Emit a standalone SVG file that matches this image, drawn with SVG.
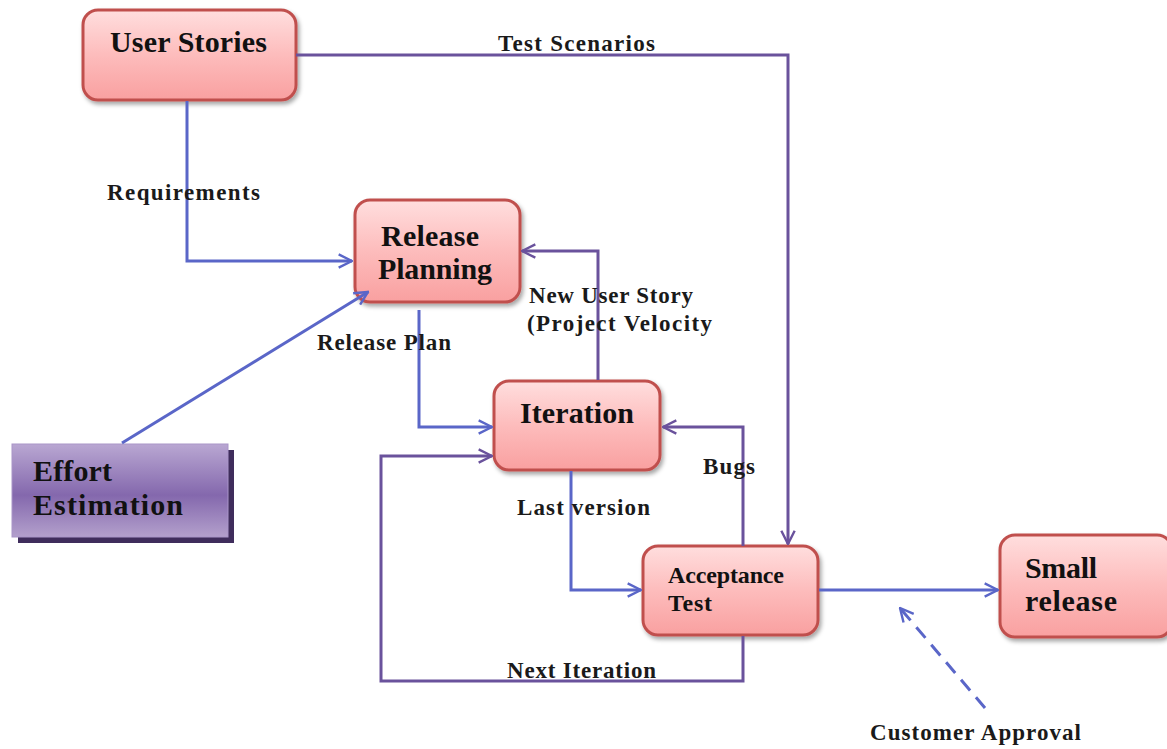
<svg xmlns="http://www.w3.org/2000/svg" width="1167" height="749" viewBox="0 0 1167 749">
<defs>
<linearGradient id="pink" x1="0" y1="0" x2="0" y2="1">
<stop offset="0" stop-color="#ffdede"/>
<stop offset="0.5" stop-color="#fdbcbc"/>
<stop offset="1" stop-color="#f9a0a0"/>
</linearGradient>
<linearGradient id="purp" x1="0" y1="0" x2="0" y2="1">
<stop offset="0" stop-color="#b9a7d2"/>
<stop offset="0.55" stop-color="#8468ad"/>
<stop offset="1" stop-color="#b3a0cc"/>
</linearGradient>
<filter id="sh" x="-10%" y="-10%" width="130%" height="130%">
<feDropShadow dx="2" dy="3" stdDeviation="2" flood-color="#000" flood-opacity="0.35"/>
</filter>
<marker id="ab" viewBox="0 0 12 12" refX="11" refY="6" markerWidth="16" markerHeight="16" markerUnits="userSpaceOnUse" orient="auto">
<path d="M1,1 L11,6 L1,11" fill="none" stroke="#5a66c8" stroke-width="1.8"/>
</marker>
<marker id="ap" viewBox="0 0 12 12" refX="11" refY="6" markerWidth="16" markerHeight="16" markerUnits="userSpaceOnUse" orient="auto">
<path d="M1,1 L11,6 L1,11" fill="none" stroke="#6a529c" stroke-width="1.8"/>
</marker>
</defs>
<style>
.box{fill:url(#pink);stroke:#c0504d;stroke-width:3;filter:url(#sh)}
.bt{font-family:"Liberation Serif",serif;font-weight:bold;font-size:30px;fill:#111}
.at{font-family:"Liberation Serif",serif;font-weight:bold;font-size:24px;fill:#111}
.lb{font-family:"Liberation Serif",serif;font-weight:bold;font-size:23px;fill:#1a1a1a}
.cb{fill:none;stroke:#5a66c8;stroke-width:3}
.cp{fill:none;stroke:#6a529c;stroke-width:3}
</style>
<rect width="1167" height="749" fill="#fff"/>
<g id="user-stories">
<rect class="box" x="83" y="10" width="213" height="90" rx="15"/>
<text class="bt" x="110" y="52" textLength="157">User Stories</text>
</g>
<g id="release-planning">
<rect class="box" x="355" y="200" width="165" height="102" rx="15"/>
<text class="bt" x="381" y="246" textLength="98">Release</text>
<text class="bt" x="378" y="279" textLength="114">Planning</text>
</g>
<g id="iteration">
<rect class="box" x="494" y="381" width="166" height="89" rx="15"/>
<text class="bt" x="520" y="423" textLength="114">Iteration</text>
</g>
<g id="acceptance-test">
<rect class="box" x="643" y="546" width="175" height="89" rx="15"/>
<text class="at" x="668" y="583" textLength="116">Acceptance</text>
<text class="at" x="668" y="611" textLength="44">Test</text>
</g>
<g id="small-release">
<rect class="box" x="1000" y="535" width="172" height="102" rx="15"/>
<text class="bt" x="1025" y="578" textLength="72">Small</text>
<text class="bt" x="1025" y="611" textLength="92">release</text>
</g>
<g id="effort-estimation">
<rect x="18" y="450" width="216" height="93" fill="#3f2d5c"/>
<rect x="12" y="444" width="216" height="93" fill="url(#purp)" stroke="#a995c8" stroke-width="1"/>
<text class="bt" x="33" y="481" textLength="79">Effort</text>
<text class="bt" x="33" y="515" textLength="150">Estimation</text>
</g>
<g id="connectors">
<path class="cp" d="M296,55 H788 V544" marker-end="url(#ap)"/>
<path class="cb" d="M187,101 V261 H352" marker-end="url(#ab)"/>
<path class="cb" d="M122,443 L368,292" marker-end="url(#ab)"/>
<path class="cb" d="M419,310 V427 H492" marker-end="url(#ab)"/>
<path class="cp" d="M598,380 V251 H522" marker-end="url(#ap)"/>
<path class="cb" d="M571,471 V590 H641" marker-end="url(#ab)"/>
<path class="cp" d="M743,546 V427 H663" marker-end="url(#ap)"/>
<path class="cp" d="M743,636 V681 H381 V456 H492" marker-end="url(#ap)"/>
<path class="cb" d="M819,590 H998" marker-end="url(#ab)"/>
<path class="cb" d="M985,708 L900,608" stroke-dasharray="14,9" marker-end="url(#ab)"/>
<text class="lb" x="498" y="51" textLength="157">Test Scenarios</text>
<text class="lb" x="107" y="200" textLength="153">Requirements</text>
<text class="lb" x="317" y="350" textLength="134">Release Plan</text>
<text class="lb" x="529" y="303" textLength="164">New User Story</text>
<text class="lb" x="527" y="331" textLength="185">(Project Velocity</text>
<text class="lb" x="517" y="515" textLength="133">Last version</text>
<text class="lb" x="703" y="474" textLength="52">Bugs</text>
<text class="lb" x="507" y="678" textLength="149">Next Iteration</text>
<text class="lb" x="870" y="740" textLength="211">Customer Approval</text>
</g>
</svg>
